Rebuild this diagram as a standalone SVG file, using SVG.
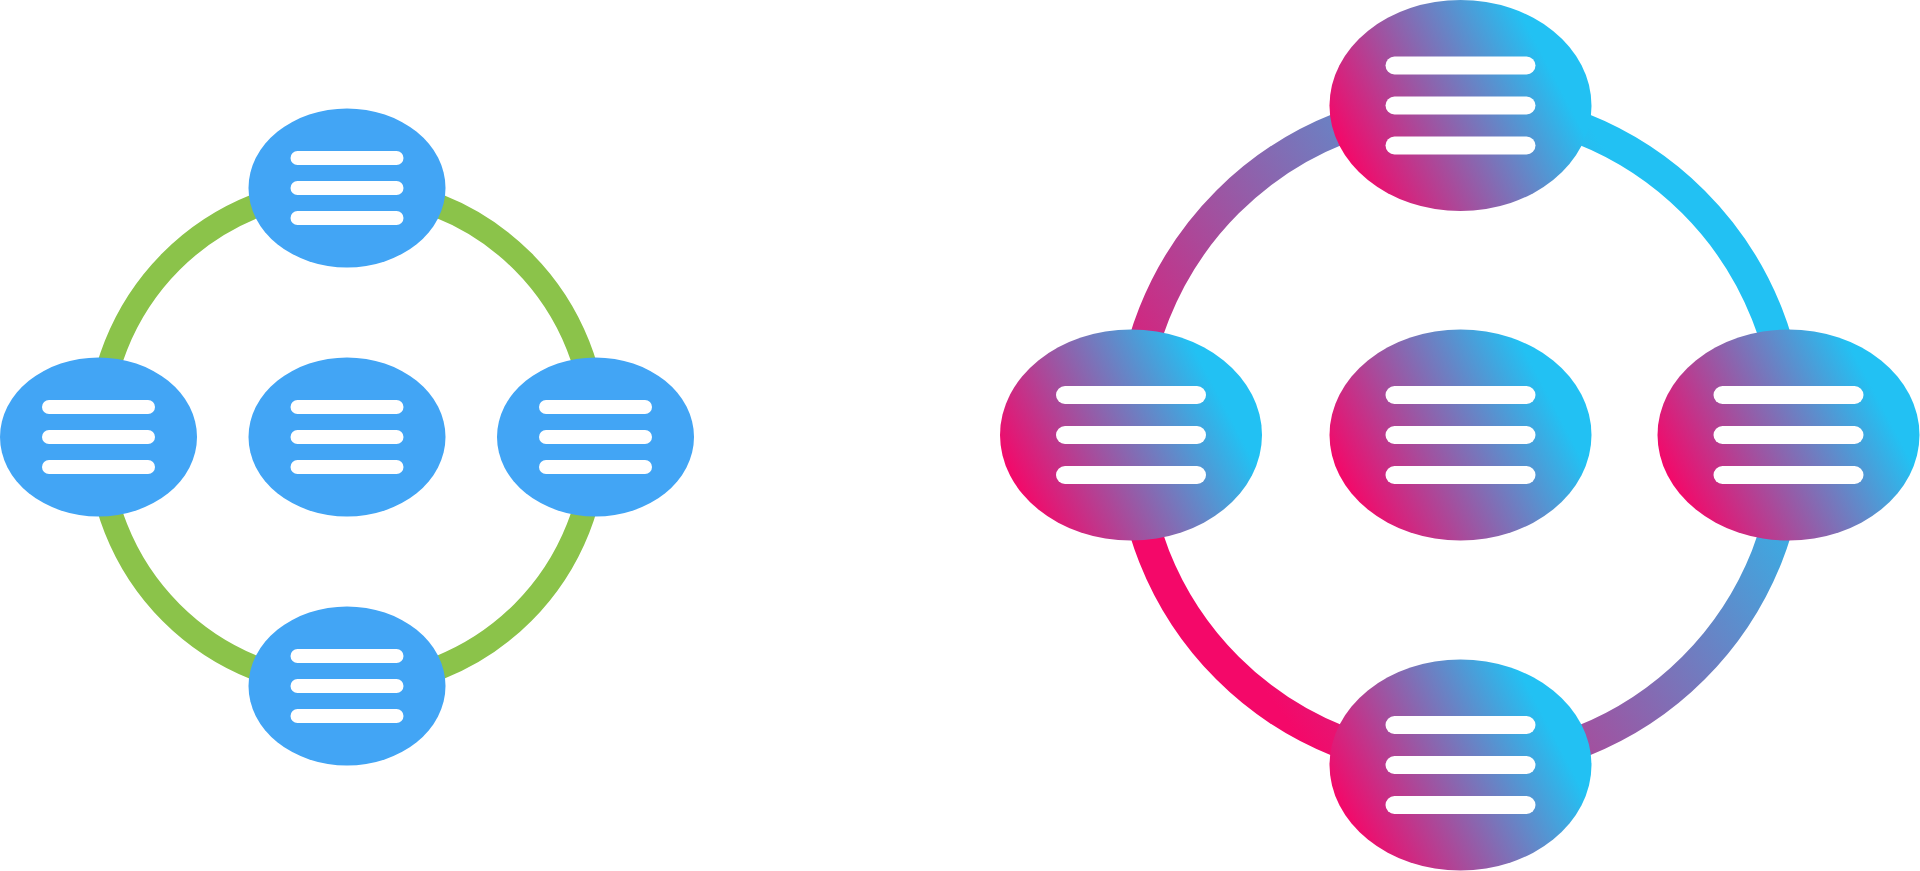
<svg xmlns="http://www.w3.org/2000/svg" width="1920" height="871" viewBox="0 0 1920 871">
  <defs>
    <linearGradient id="gNode" gradientUnits="userSpaceOnUse" x1="-111" y1="59" x2="85" y2="-45">
      <stop offset="0" stop-color="#F40869"/>
      <stop offset="1" stop-color="#22C1F3"/>
    </linearGradient>
    <linearGradient id="gRing" gradientUnits="userSpaceOnUse" x1="1210" y1="611" x2="1692" y2="273">
      <stop offset="0" stop-color="#F40869"/>
      <stop offset="1" stop-color="#22C1F3"/>
    </linearGradient>
  </defs>
  <style>
    .ringL { fill: none; stroke: #8BC34A; stroke-width: 24; }
    .ringR { fill: none; stroke: url(#gRing); stroke-width: 32; }
    .nodeL { fill: #42A5F5; }
    .nodeR { fill: url(#gNode); }
    .barL { stroke: #FFFFFF; stroke-width: 14; stroke-linecap: round; }
    .barR { stroke: #FFFFFF; stroke-width: 18; stroke-linecap: round; }
  </style>
  <rect width="1920" height="871" fill="#FFFFFF"/>

  <g id="connectors">
    <!-- left ring: center (347,437) r 248.5 -->
    <path class="ringL" d="M347 188.5 A248.5 248.5 0 0 1 595.5 437"/>
    <path class="ringL" d="M595.5 437 A248.5 248.5 0 0 1 347 685.5"/>
    <path class="ringL" d="M347 685.5 A248.5 248.5 0 0 1 98.5 437"/>
    <path class="ringL" d="M98.5 437 A248.5 248.5 0 0 1 347 188.5"/>
    <!-- right ring: center (1460.5,435) r 329.5 -->
    <path class="ringR" d="M1460.5 105.5 A329.5 329.5 0 0 1 1790 435"/>
    <path class="ringR" d="M1790 435 A329.5 329.5 0 0 1 1460.5 764.5"/>
    <path class="ringR" d="M1460.5 764.5 A329.5 329.5 0 0 1 1131 435"/>
    <path class="ringR" d="M1131 435 A329.5 329.5 0 0 1 1460.5 105.5"/>
  </g>

  <!-- left icon nodes -->
  <g id="L-top" transform="translate(347 188)">
    <ellipse class="nodeL" rx="98.5" ry="79.5"/>
    <line class="barL" x1="-49.5" y1="-30" x2="49.5" y2="-30"/>
    <line class="barL" x1="-49.5" y1="0" x2="49.5" y2="0"/>
    <line class="barL" x1="-49.5" y1="30" x2="49.5" y2="30"/>
  </g>
  <g id="L-left" transform="translate(98.5 437)">
    <ellipse class="nodeL" rx="98.5" ry="79.5"/>
    <line class="barL" x1="-49.5" y1="-30" x2="49.5" y2="-30"/>
    <line class="barL" x1="-49.5" y1="0" x2="49.5" y2="0"/>
    <line class="barL" x1="-49.5" y1="30" x2="49.5" y2="30"/>
  </g>
  <g id="L-center" transform="translate(347 437)">
    <ellipse class="nodeL" rx="98.5" ry="79.5"/>
    <line class="barL" x1="-49.5" y1="-30" x2="49.5" y2="-30"/>
    <line class="barL" x1="-49.5" y1="0" x2="49.5" y2="0"/>
    <line class="barL" x1="-49.5" y1="30" x2="49.5" y2="30"/>
  </g>
  <g id="L-right" transform="translate(595.5 437)">
    <ellipse class="nodeL" rx="98.5" ry="79.5"/>
    <line class="barL" x1="-49.5" y1="-30" x2="49.5" y2="-30"/>
    <line class="barL" x1="-49.5" y1="0" x2="49.5" y2="0"/>
    <line class="barL" x1="-49.5" y1="30" x2="49.5" y2="30"/>
  </g>
  <g id="L-bottom" transform="translate(347 686)">
    <ellipse class="nodeL" rx="98.5" ry="79.5"/>
    <line class="barL" x1="-49.5" y1="-30" x2="49.5" y2="-30"/>
    <line class="barL" x1="-49.5" y1="0" x2="49.5" y2="0"/>
    <line class="barL" x1="-49.5" y1="30" x2="49.5" y2="30"/>
  </g>

  <!-- right icon nodes -->
  <g id="R-top" transform="translate(1460.5 105.5)">
    <ellipse class="nodeR" rx="131" ry="105.5"/>
    <line class="barR" x1="-66" y1="-40" x2="66" y2="-40"/>
    <line class="barR" x1="-66" y1="0" x2="66" y2="0"/>
    <line class="barR" x1="-66" y1="40" x2="66" y2="40"/>
  </g>
  <g id="R-left" transform="translate(1131 435)">
    <ellipse class="nodeR" rx="131" ry="105.5"/>
    <line class="barR" x1="-66" y1="-40" x2="66" y2="-40"/>
    <line class="barR" x1="-66" y1="0" x2="66" y2="0"/>
    <line class="barR" x1="-66" y1="40" x2="66" y2="40"/>
  </g>
  <g id="R-center" transform="translate(1460.5 435)">
    <ellipse class="nodeR" rx="131" ry="105.5"/>
    <line class="barR" x1="-66" y1="-40" x2="66" y2="-40"/>
    <line class="barR" x1="-66" y1="0" x2="66" y2="0"/>
    <line class="barR" x1="-66" y1="40" x2="66" y2="40"/>
  </g>
  <g id="R-right" transform="translate(1788.5 435)">
    <ellipse class="nodeR" rx="131" ry="105.5"/>
    <line class="barR" x1="-66" y1="-40" x2="66" y2="-40"/>
    <line class="barR" x1="-66" y1="0" x2="66" y2="0"/>
    <line class="barR" x1="-66" y1="40" x2="66" y2="40"/>
  </g>
  <g id="R-bottom" transform="translate(1460.5 765)">
    <ellipse class="nodeR" rx="131" ry="105.5"/>
    <line class="barR" x1="-66" y1="-40" x2="66" y2="-40"/>
    <line class="barR" x1="-66" y1="0" x2="66" y2="0"/>
    <line class="barR" x1="-66" y1="40" x2="66" y2="40"/>
  </g>
</svg>
